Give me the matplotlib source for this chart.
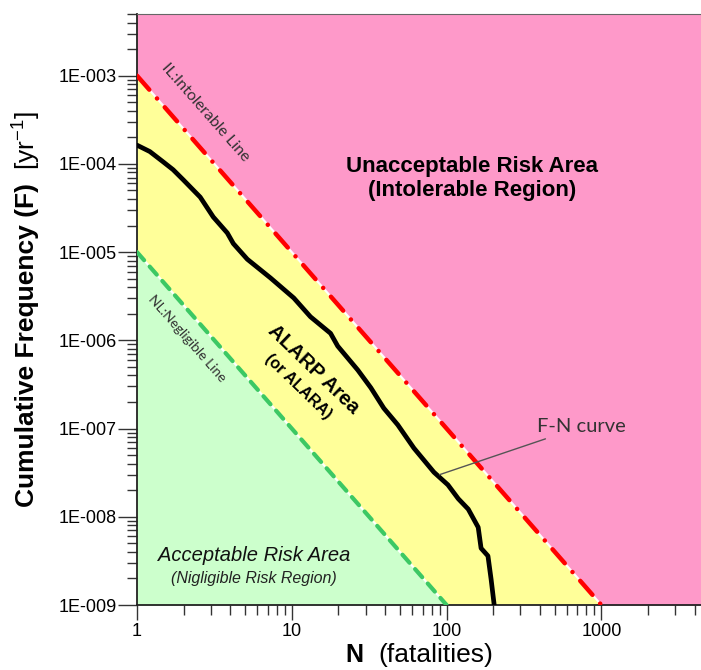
import matplotlib
matplotlib.use("Agg")
import numpy as np
import matplotlib.pyplot as plt
from matplotlib.ticker import LogLocator, FuncFormatter, NullFormatter

plt.rcParams["font.family"] = ["Liberation Sans", "DejaVu Sans"]
plt.rcParams["mathtext.fontset"] = "custom"
plt.rcParams["mathtext.rm"] = "Liberation Sans"
plt.rcParams["mathtext.it"] = "Liberation Sans:italic"
plt.rcParams["mathtext.bf"] = "Liberation Sans:bold"

# F-N curve
fn_n = [1.0, 1.21, 1.47, 1.71, 1.99, 2.56, 3.11, 3.83, 4.19, 5.16, 7.28, 10.3,
        13.2, 17.8, 19.8, 26.7, 32.4, 39.3, 48.4, 61.5, 82.8, 102, 119, 138,
        160, 167, 185, 194, 203]
fn_f = [1.63e-4, 1.38e-4, 1.06e-4, 8.6e-5, 6.6e-5, 4.2e-5, 2.5e-5, 1.65e-5,
        1.25e-5, 8.3e-6, 5.1e-6, 3.02e-6, 1.85e-6, 1.2e-6, 8.6e-7, 4.6e-7,
        2.9e-7, 1.7e-7, 1.10e-7, 6.0e-8, 3.2e-8, 2.3e-8, 1.6e-8, 1.22e-8,
        7.6e-9, 4.4e-9, 3.6e-9, 1.94e-9, 1.0e-9]

# criterion lines (end points)
il_n = [1, 1000]
il_f = [1e-3, 1e-9]
nl_n = [1, 100]
nl_f = [1e-5, 1e-9]

N_MAX = 4400
F_MIN, F_MAX = 1e-9, 5e-3

PINK = "#fe99c9"
YELLOW = "#ffff99"
GREEN = "#ccffcc"

fig = plt.figure(figsize=(7.01, 6.70), dpi=100)
ax = fig.add_axes([137 / 701, 65 / 670, 564 / 701, 591 / 670])
ax.set_xscale("log")
ax.set_yscale("log")
ax.set_xlim(1, N_MAX)
ax.set_ylim(F_MIN, F_MAX)
ax.set_facecolor(YELLOW)

# regions
ax.fill_between(il_n + [N_MAX], il_f + [F_MIN], F_MAX, color=PINK, lw=0, zorder=1)
ax.fill_between(nl_n, F_MIN, nl_f, color=GREEN, lw=0, zorder=1)
ax.plot(il_n, il_f, color="white", lw=1.5, zorder=2)
ax.plot(nl_n, nl_f, color="white", lw=1.5, zorder=2)

# criterion lines
ax.plot(il_n, il_f, color="#ff0000", lw=3.2, dashes=(4.2, 2.6, 0.05, 2.6),
        dash_capstyle="round", zorder=3)
ax.plot(nl_n, nl_f, color="#3cc864", lw=3.0, dashes=(2.6, 2.0),
        dash_capstyle="round", zorder=3)

# F-N curve
ax.plot(fn_n, fn_f, color="black", lw=3.4, solid_joinstyle="round",
        solid_capstyle="round", zorder=4)

# texts
ax.text(146, 6.8e-5, "Unacceptable Risk Area\n(Intolerable Region)", ha="center",
        va="center", fontsize=16, fontweight="bold", linespacing=1.15, zorder=5)
ax.text(2.75, 3.8e-4, "IL:Intolerable Line", rotation=-48.7, ha="center",
        va="center", fontsize=11.5, color="#333333", family=["Lato", "DejaVu Sans"],
        rotation_mode="anchor", zorder=5)
ax.text(2.1, 1.05e-6, "NL:Negligible Line", rotation=-48.7, ha="center",
        va="center", fontsize=10, color="#333333", family=["Lato", "DejaVu Sans"],
        rotation_mode="anchor", zorder=5)
ax.text(13.9, 4.7e-7, "ALARP Area", rotation=-44, ha="center", va="center",
        fontsize=14.5, fontweight="bold", rotation_mode="anchor", zorder=5)
ax.text(11.0, 3.0e-7, "(or ALARA)", rotation=-44, ha="center", va="center",
        fontsize=11.5, fontweight="bold", rotation_mode="anchor", zorder=5)
ax.text(5.7, 3.6e-9, "Acceptable Risk Area", ha="center", va="center",
        fontsize=14.5, style="italic", color="#111111", zorder=5)
ax.text(5.7, 2.0e-9, "(Nigligible Risk Region)", ha="center", va="center",
        fontsize=11.5, style="italic", color="#222222", zorder=5)
ax.annotate("F-N curve", xy=(90, 3.0e-8), xytext=(384, 1.05e-7),
            ha="left", va="center", fontsize=14.5, color="#333333",
            family=["Lato", "DejaVu Sans"],
            arrowprops=dict(arrowstyle="-", color="#555555", lw=1,
                            shrinkA=2, shrinkB=0), zorder=5)

# axes styling
for side in ["left", "bottom"]:
    ax.spines[side].set_color("#222222")
    ax.spines[side].set_linewidth(1.3)
ax.spines["top"].set_color("#666666")
ax.spines["right"].set_visible(False)

ax.xaxis.set_major_locator(LogLocator(base=10, numticks=10))
ax.xaxis.set_minor_locator(LogLocator(base=10, subs=np.arange(2, 10), numticks=20))
ax.yaxis.set_major_locator(LogLocator(base=10, numticks=12))
ax.yaxis.set_minor_locator(LogLocator(base=10, subs=np.arange(2, 10), numticks=20))
ax.xaxis.set_major_formatter(FuncFormatter(lambda v, p: f"{v:g}"))
ax.yaxis.set_major_formatter(
    FuncFormatter(lambda v, p: f"1E-{abs(int(round(np.log10(v)))):03d}"))
ax.xaxis.set_minor_formatter(NullFormatter())
ax.yaxis.set_minor_formatter(NullFormatter())

ax.tick_params(axis="both", which="both", direction="out", color="#333333",
               width=1, labelsize=13)
ax.tick_params(axis="y", which="major", length=14, pad=0.5)
ax.tick_params(axis="y", which="minor", length=7)
ax.tick_params(axis="x", which="major", length=11, pad=2)
ax.tick_params(axis="x", which="minor", length=7)

# axis titles
fig.text(27 / 701, 1 - 507 / 670, "Cumulative Frequency (F)", rotation=90,
         ha="center", va="bottom", fontsize=19, fontweight="bold")
fig.text(27 / 701, 1 - 111 / 670, "[yr$^{-1}$]", rotation=90,
         ha="center", va="top", fontsize=19)
fig.text(345 / 701, 1 - 662 / 670, "N", ha="left", va="baseline",
         fontsize=18, fontweight="bold")
fig.text(378 / 701, 1 - 662 / 670, "(fatalities)", ha="left", va="baseline",
         fontsize=19)

fig.savefig("out.png", dpi=100)
